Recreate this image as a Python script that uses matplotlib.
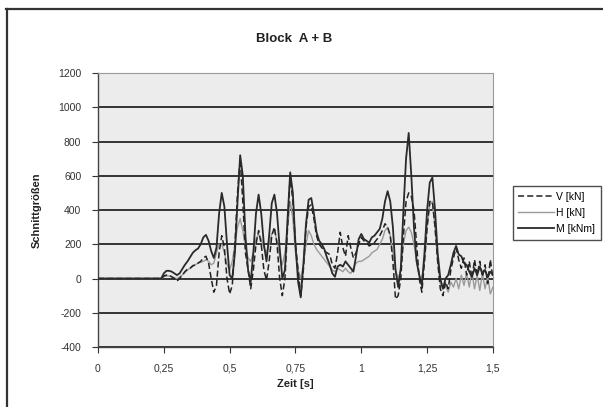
import numpy as np
import matplotlib
matplotlib.use("Agg")
import matplotlib.pyplot as plt
from matplotlib.lines import Line2D

plt.rcParams['font.family'] = ['Liberation Sans', 'DejaVu Sans']

title = "Block  A + B"
x_label = "Zeit [s]"
y_label = "Schnittgrößen"
series_names = ["V [kN]", "H [kN]", "M [kNm]"]

# time axis: 0.00 .. 1.50 s, step 0.01
t_start, t_end, t_step = 0.0, 1.5, 0.01

V = [0, 0, 0, 0, 0, 0, 0, 0, 0, 0, 0, 0, 0, 0, 0, 0, 0, 0, 0, 0, 0, 0, 0, 0, 0,
     15, 20, 20, 10, 0, -15, 0, 20, 40, 55, 60, 75, 80, 90, 100,
     120, 130, 90, 0, -80, -40, 150, 250, 180, 0,
     -90, -40, 200, 500, 700, 450, 150, 50, -60, 50,
     200, 280, 200, 50, -10, 100, 250, 300, 200, 0,
     -100, 0, 300, 600, 450, 200, 50, -100, 50, 300,
     420, 430, 350, 250, 200, 180, 160, 150, 140, 80,
     60, 150, 270, 180, 130, 250, 180, 120, 150, 200,
     240, 220, 210, 190, 200, 210, 230, 250, 280, 320,
     300, 250, 100, -120, -100, 0, 250, 450, 500, 480,
     400, 200, 0, -80, 100, 300, 450, 450, 300, 100,
     -60, -100, -20, -60, 50, 120, 180, 110, 60, 120,
     20, 100, 0, 110, 20, 100, 10, 80, -30, 110, 0]

H = [0, 0, 0, 0, 0, 0, 0, 0, 0, 0, 0, 0, 0, 0, 0, 0, 0, 0, 0, 0, 0, 0, 0, 0, 0,
     10, 15, 15, 10, 5, 0, 10, 20, 35, 50, 60, 70, 80, 90, 95,
     100, 110, 100, 80, 90, 150, 200, 200, 150, 80,
     50, 100, 200, 300, 350, 280, 180, 120, 100, 150,
     230, 260, 230, 180, 150, 200, 260, 280, 220, 130,
     80, 150, 300, 450, 350, 150, 50, 0, 80, 200,
     280, 250, 200, 170, 150, 130, 110, 90, 70, 50,
     40, 60, 50, 40, 60, 40, 30, 60, 90, 100,
     100, 110, 120, 130, 150, 160, 170, 200, 230, 280,
     300, 250, 150, 50, 0, 50, 200, 280, 300, 270,
     200, 100, 20, 0, 100, 300, 430, 450, 300, 100,
     -30, -60, -40, -80, -20, -50, 0, -60, 20, -40,
     30, -50, 40, -60, 20, -70, 30, -60, 10, -90, -50]

M = [0, 0, 0, 0, 0, 0, 0, 0, 0, 0, 0, 0, 0, 0, 0, 0, 0, 0, 0, 0, 0, 0, 0, 0, 0,
     30, 45, 45, 40, 30, 20, 30, 55, 80, 100, 125, 150, 165, 175, 200,
     240, 255, 220, 160, 120, 180, 380, 500, 420, 200,
     20, 0, 150, 450, 720, 600, 250, 50, -20, 150,
     380, 490, 380, 200, 100, 250, 440, 490, 380, 180,
     0, 50, 350, 620, 500, 200, -20, -110, 80, 320,
     460, 470, 380, 270, 220, 200, 170, 120, 80, 30,
     10, 70, 80, 70, 100, 80, 60, 40, 130, 230,
     260, 230, 220, 210, 240, 250, 270, 290, 350, 450,
     510, 450, 300, 50, -50, 60, 400, 700, 850, 600,
     300, 100, 20, -40, 150, 400, 560, 590, 400, 150,
     0, -60, 0, 20, 80, 150, 190, 140, 130, 90,
     80, 40, 10, 60, 20, 70, 30, 50, 10, 40, 20]

x_ticks = [0, 0.25, 0.5, 0.75, 1, 1.25, 1.5]
x_tick_labels = ["0", "0,25", "0,5", "0,75", "1", "1,25", "1,5"]
y_ticks = [-400, -200, 0, 200, 400, 600, 800, 1000, 1200]

t = np.round(np.arange(t_start, t_end + t_step / 2, t_step), 2)

fig = plt.figure(figsize=(6.03, 4.07), dpi=100)
fig.patch.set_facecolor('white')
ax = fig.add_axes([0.1625, 0.1474, 0.655, 0.6732])
ax.set_facecolor('#ececec')

ax.plot(t, V, color='#222222', lw=1.1, ls=(0, (4, 2)), label=series_names[0], zorder=3)
ax.plot(t, H, color='#9a9a9a', lw=1.0, ls='-', label=series_names[1], zorder=2)
ax.plot(t, M, color='#2a2a2a', lw=1.3, ls='-', label=series_names[2], zorder=4)

ax.set_xlim(0, 1.5)
ax.set_ylim(-400, 1200)
ax.set_xticks(x_ticks)
ax.set_xticklabels(x_tick_labels)
ax.set_yticks(y_ticks)
ax.set_yticklabels([str(v) for v in y_ticks])
ax.tick_params(axis='both', labelsize=7.5, colors='#333333', length=4, width=0.8,
               direction='out', pad=8)
ax.tick_params(axis='x', pad=8)
ax.yaxis.grid(True, color='#333333', lw=1.4)
ax.set_axisbelow(True)
for side in ['top', 'right']:
    ax.spines[side].set_color('#9a9a9a')
    ax.spines[side].set_linewidth(0.8)
for side in ['left', 'bottom']:
    ax.spines[side].set_color('#444444')
    ax.spines[side].set_linewidth(1.0)

ax.set_xlabel(x_label, fontsize=8, fontweight='bold', color='#222222', labelpad=4)
ax.set_ylabel(y_label, fontsize=8, fontweight='bold', color='#222222', labelpad=12)
fig.text(0.487, 0.905, title, ha='center', va='center', fontsize=9.5,
         fontweight='bold', color='#222222')

leg = ax.legend(loc='center left', bbox_to_anchor=(1.05, 0.49), fontsize=7.5,
                frameon=True, fancybox=False, edgecolor='#222222',
                handlelength=3.4, handletextpad=0.2, borderpad=0.55,
                labelspacing=0.6, borderaxespad=0)
leg.get_frame().set_linewidth(1.0)

# scanned outer frame (top and left edges)
fig.add_artist(Line2D([6 / 603, 1.0], [1 - 8.5 / 407, 1 - 8.5 / 407],
                      transform=fig.transFigure, color='#333333', lw=1.6))
fig.add_artist(Line2D([6.5 / 603, 6.5 / 603], [0, 1 - 8.5 / 407],
                      transform=fig.transFigure, color='#333333', lw=1.6))

fig.savefig("out.png", dpi=100)
